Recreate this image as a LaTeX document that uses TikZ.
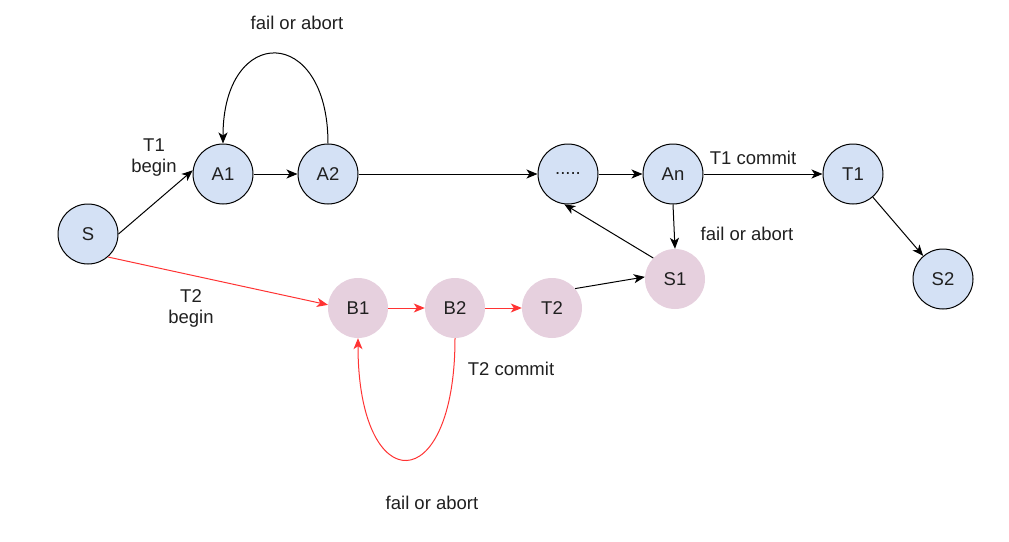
\documentclass[tikz,border=0pt]{standalone}
\usepackage{fontspec}
\setmainfont{Liberation Sans}
\usetikzlibrary{arrows.meta}
\definecolor{blu}{RGB}{212,225,245}
\definecolor{pnk}{RGB}{230,208,222}
\definecolor{redl}{RGB}{255,51,51}
\definecolor{txt}{RGB}{32,32,32}
\begin{document}
\begin{tikzpicture}[x=1pt,y=-1pt,
  every node/.style={font=\fontsize{18.5}{21}\selectfont, text=txt},
  bnode/.style={circle, draw=black, line width=1pt, fill=blu, minimum size=60pt, inner sep=0pt},
  pnode/.style={circle, fill=pnk, minimum size=60pt, inner sep=0pt},
  lbl/.style={align=center, inner sep=0pt},
  edge/.style={line width=1pt, -{Stealth[length=11pt,width=9pt,inset=3pt]}},
  redge/.style={edge, draw=redl}]
\useasboundingbox (0,0) rectangle (1009,541);
\node[bnode] (S) at (88,234) {S};
\node[bnode] (A1) at (223,174) {A1};
\node[bnode] (A2) at (328,174) {A2};
\node[bnode] (D) at (568,174) {.....};
\node[bnode] (An) at (673,174) {An};
\node[bnode] (T1) at (853,174) {T1};
\node[bnode] (S2) at (943,279) {S2};
\node[pnode] (S1) at (675,279) {S1};
\node[pnode] (B1) at (358,308) {B1};
\node[pnode] (B2) at (455,308) {B2};
\node[pnode] (T2) at (552,308) {T2};

\draw[edge] (S.east) -- (A1.173);
\draw[edge] (A1) -- (A2);
\draw[edge] (A2) -- (D);
\draw[edge] (D) -- (An);
\draw[edge] (An) -- (T1);
\draw[edge] (T1) -- (S2);
\draw[edge] (An.south) -- (S1.north);
\draw[edge] (S1.136) -- (D.-97);
\draw[edge] (T2.40) -- (S1.176);
\draw[edge] (A2.north) .. controls (328,24) and (223,24) .. (A1.north);

\draw[redge] (S.-49) -- (B1.174);
\draw[redge] (B1) -- (B2);
\draw[redge] (B2) -- (T2);
\draw[redge] (B2.south) .. controls (455,500) and (358,500) .. (B1.south);

\node[lbl] (l1) at (154,158) {T1\\begin};
\node[lbl] (l2) at (191,308) {T2\\begin};
\node[lbl] (l3) at (297,23) {fail or abort};
\node[lbl] (l4) at (753,158) {T1 commit};
\node[lbl] (l5) at (747,234) {fail or abort};
\node[lbl] (l6) at (511,369) {T2 commit};
\node[lbl] (l7) at (432,503) {fail or abort};
\end{tikzpicture}
\end{document}
